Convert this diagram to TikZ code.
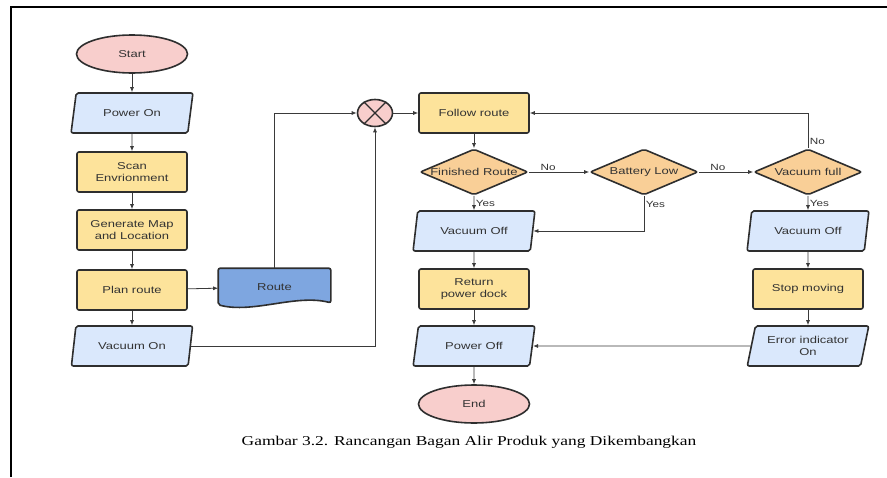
\documentclass[tikz,border=0pt]{standalone}
\usepackage{fontspec}
\setmainfont{Liberation Serif}
\newfontfamily\boxfont[FakeStretch=1.3]{Liberation Sans}
\newfontfamily\capfont[FakeStretch=1.29]{Liberation Serif}
\usetikzlibrary{shapes.geometric,arrows.meta,backgrounds}

\definecolor{termfill}{HTML}{F8CECC}
\definecolor{iofill}{HTML}{DAE8FC}
\definecolor{procfill}{HTML}{FDE39B}
\definecolor{decfill}{HTML}{F9CF97}
\definecolor{docfill}{HTML}{7EA6E0}
\definecolor{edgegray}{HTML}{2E2E2E}
\definecolor{linegray}{HTML}{3A3A3A}
\definecolor{textgray}{HTML}{333333}

\tikzset{
  base/.style={draw=edgegray, line width=1.6pt, rounded corners=2pt,
    font=\boxfont\fontsize{10}{12}\selectfont, text=textgray, align=center, inner sep=1pt},
  terminal/.style={base, ellipse, fill=termfill, minimum width=111pt, minimum height=38pt},
  process/.style={base, rectangle, fill=procfill, minimum width=110pt, minimum height=40pt},
  io/.style={base, trapezium, trapezium left angle=73, trapezium right angle=107,
    trapezium stretches=true, fill=iofill, minimum width=122pt, minimum height=40pt},
  decision/.style={base, diamond, fill=decfill, minimum width=108pt, minimum height=46pt},
  dtext/.style={font=\boxfont\fontsize{10}{12}\selectfont, text=textgray},
  flow/.style={draw=linegray, line width=0.8pt, -{Latex[length=5pt,width=4pt]}},
  tag/.style={font=\boxfont\fontsize{9}{10}\selectfont, text=textgray, inner sep=1.5pt},
}

\begin{document}
\begin{tikzpicture}[x=1pt, y=-1pt]
  \useasboundingbox (0,0) rectangle (887,477);
  % frame
  \draw[line width=1.6pt] (11,477) -- (11,7) -- (887,7);

  % left column
  \node[terminal] (start) at (132,54) {Start};
  \node[io] (pon) at (132,113) {Power On};
  \node[process] (scan) at (132,172) {Scan\\Envrionment};
  \node[process] (gen) at (132,230) {Generate Map\\and Location};
  \node[process] (plan) at (132,290) {Plan route};
  \node[io] (von) at (132,346) {Vacuum On};

  % route document
  \node[base, draw=none, minimum width=111pt, minimum height=36pt] (route) at (274.5,287) {Route};
  \begin{scope}[on background layer]
    \draw[draw=edgegray, line width=1.6pt, fill=docfill, rounded corners=2pt]
      (route.north west) -- (route.north east) -- ([yshift=3pt]route.south east)
      .. controls +(-35pt,9pt) and +(35pt,-9pt) .. ([yshift=1pt]route.south west) -- cycle;
  \end{scope}

  % junction
  \node[base, ellipse, fill=termfill, minimum width=35pt, minimum height=27pt] (sum) at (375,113) {};
  \draw[edgegray, line width=1.2pt] (sum.45) -- (sum.225) (sum.135) -- (sum.315);

  % middle column
  \node[process] (follow) at (474,113) {Follow route};
  \node[decision, label={[dtext]center:Finished Route}] (fin) at (474,172) {};
  \node[io] (voffa) at (474,231) {Vacuum Off};
  \node[process] (ret) at (474,289) {Return\\power dock};
  \node[io] (poff) at (474,346) {Power Off};
  \node[terminal] (endn) at (474,404) {End};

  \node[decision, label={[dtext]center:Battery Low}] (batt) at (644,172) {};

  % right column
  \node[decision, label={[dtext]center:Vacuum full}] (vfull) at (808,172) {};
  \node[io] (voffb) at (808,231) {Vacuum Off};
  \node[process] (stop) at (808,289) {Stop moving};
  \node[io] (err) at (808,346) {Error indicator\\On};

  % connectors
  \draw[flow] (start) -- (pon);
  \draw[flow] (pon) -- (scan);
  \draw[flow] (scan) -- (gen);
  \draw[flow] (gen) -- (plan);
  \draw[flow] (plan) -- (von);
  \draw[flow] (plan) -- (route);
  \draw[flow] (route.north) |- (sum.west);
  \draw[flow] (von.east) -| (sum.south);
  \draw[flow] (sum.east) -- (follow.west);
  \draw[flow] (follow) -- (fin);
  \draw[flow] (fin.east) -- node[tag, above, pos=0.32] {No} (batt.west);
  \draw[flow] (batt.east) -- node[tag, above, pos=0.35] {No} (vfull.west);
  \draw[flow] (vfull.north) |- node[tag, right, pos=0.1] {No} (follow.east);
  \draw[flow] (fin.south) -- node[tag, right] {Yes} (voffa);
  \draw[flow] (batt.south) |- node[tag, right, pos=0.12] {Yes} (voffa.east);
  \draw[flow] (voffa) -- (ret);
  \draw[flow] (ret) -- (poff);
  \draw[flow] (poff) -- (endn);
  \draw[flow] (vfull.south) -- node[tag, right] {Yes} (voffb);
  \draw[flow] (voffb) -- (stop);
  \draw[flow] (stop) -- (err);
  \draw[flow] (err.west) -- (poff.east);

  % caption
  \node[font=\capfont\fontsize{13.5}{16}\selectfont] (caption) at (469,442)
    {Gambar 3.2. Rancangan Bagan Alir Produk yang Dikembangkan};
\end{tikzpicture}
\end{document}
